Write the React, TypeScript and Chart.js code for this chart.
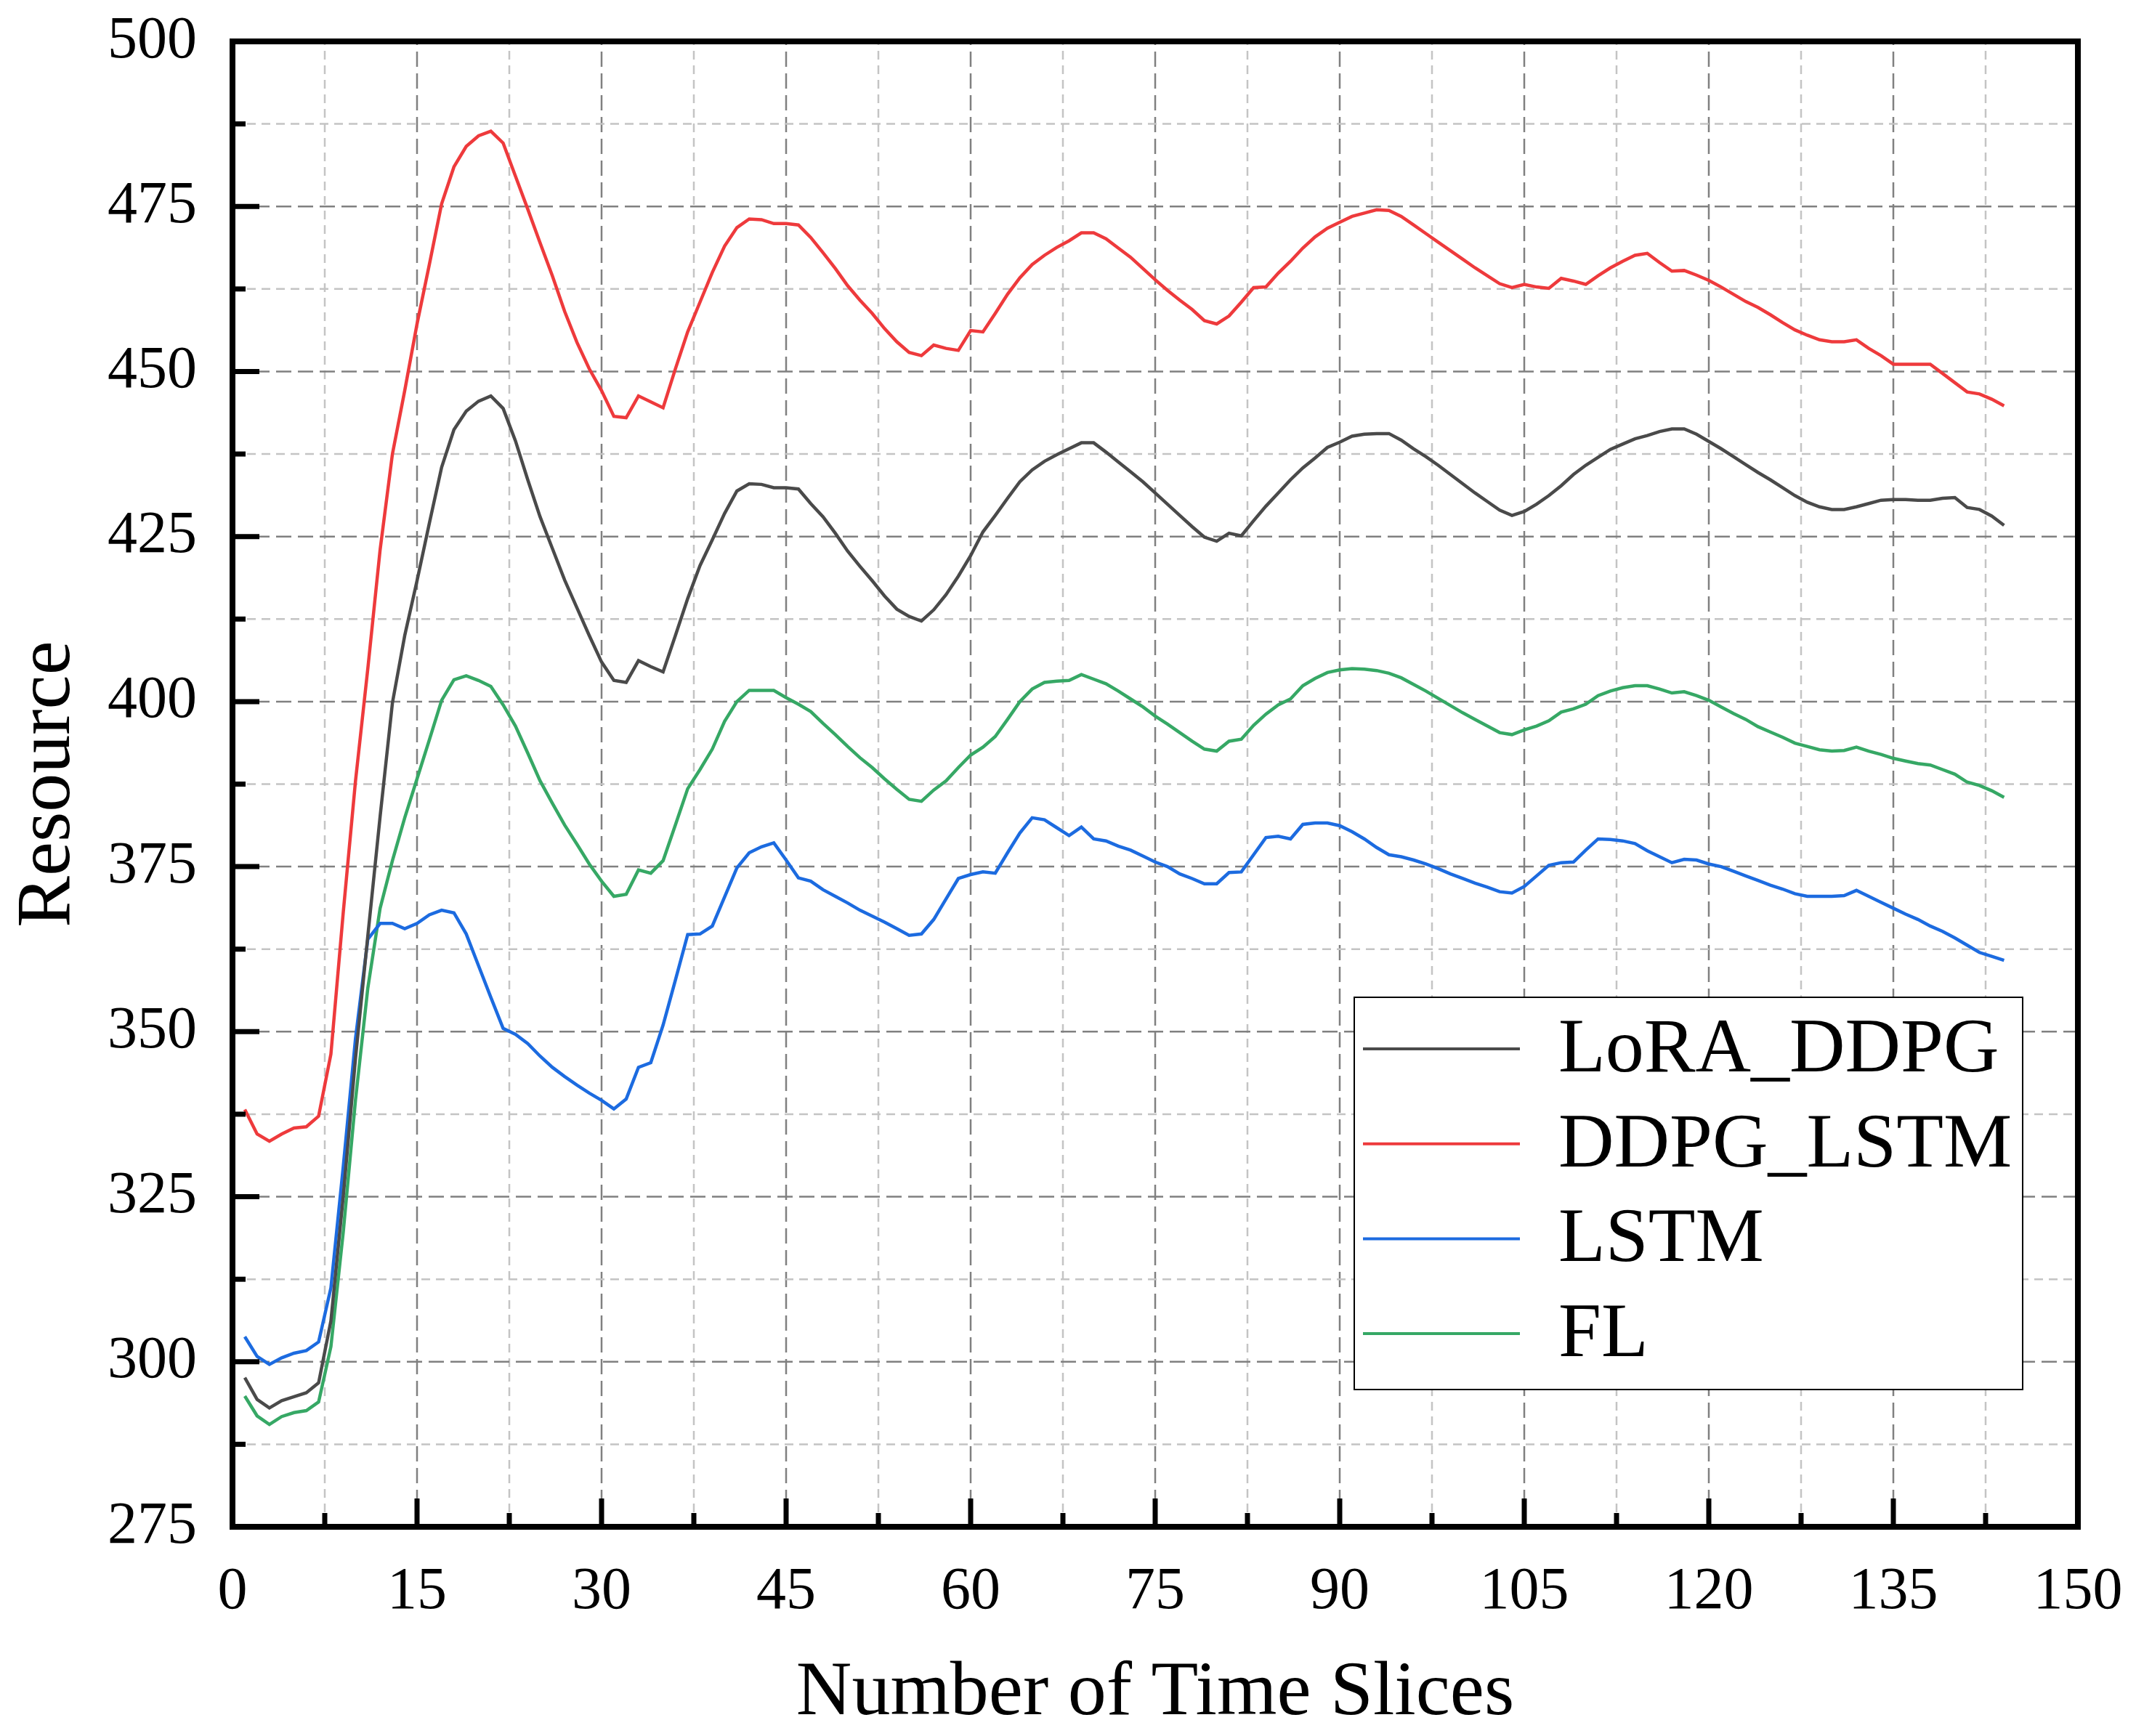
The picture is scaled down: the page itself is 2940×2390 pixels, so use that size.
import React, { useEffect, useRef } from "react";
import { Chart, registerables } from "chart.js";

Chart.register(...registerables);

const FONT = '"Liberation Serif", "Times New Roman", Times, serif';

const SERIES_LABELS = ["LoRA_DDPG", "DDPG_LSTM", "LSTM", "FL"];
const SERIES_COLORS = ["#4a4a4a", "#ee3a3c", "#1c6be0", "#36a865"];

// x categories: time slices 1..144
const TIME_SLICES = Array.from({ length: 144 }, (_, i) => i + 1);

const LORA_DDPG = [
  297.6, 294.3, 293.0, 294.1, 294.7, 295.3, 296.8, 306.2, 325.0, 346.0,
  364.5, 382.6, 399.8, 410.0, 418.3, 427.0, 435.5, 441.2, 444.0, 445.5,
  446.3, 444.4, 439.5, 433.6, 428.0, 423.2, 418.4, 414.2, 410.0, 406.0,
  403.2, 402.9, 406.2, 405.3, 404.5, 410.0, 415.6, 420.6, 424.5, 428.5,
  431.9, 433.0, 432.9, 432.4, 432.4, 432.2, 430.0, 428.0, 425.5, 422.8,
  420.5, 418.3, 416.0, 414.0, 412.9, 412.2, 413.9, 416.2, 419.0, 422.1,
  425.7, 428.2, 430.8, 433.3, 435.1, 436.4, 437.4, 438.3, 439.2, 439.2,
  437.8, 436.3, 434.8, 433.3, 431.6, 429.9, 428.2, 426.5, 424.9, 424.3,
  425.5, 425.1, 427.4, 429.6, 431.6, 433.6, 435.4, 436.9, 438.5, 439.3,
  440.2, 440.5, 440.6, 440.6, 439.6, 438.3, 437.1, 435.8, 434.4, 433.0,
  431.6, 430.3, 429.0, 428.2, 428.8, 429.9, 431.2, 432.7, 434.4, 435.8,
  437.0, 438.2, 439.0, 439.8, 440.3, 440.9, 441.3, 441.3, 440.5, 439.4,
  438.3, 437.1, 435.9, 434.7, 433.6, 432.4, 431.2, 430.2, 429.5, 429.1,
  429.1, 429.5, 430.0, 430.5, 430.6, 430.6, 430.5, 430.5, 430.8, 430.9,
  429.4, 429.1, 428.1, 426.7,
];

const DDPG_LSTM = [
  338.2, 334.5, 333.4, 334.5, 335.4, 335.6, 337.2, 346.6, 368.0, 388.0,
  405.0, 423.0, 437.5, 447.1, 457.2, 466.2, 475.4, 481.0, 484.1, 485.7,
  486.4, 484.6, 479.6, 474.6, 469.5, 464.5, 459.1, 454.4, 450.4, 447.1,
  443.2, 443.0, 446.3, 445.4, 444.5, 450.4, 456.0, 460.5, 465.0, 469.0,
  471.8, 473.1, 473.0, 472.4, 472.4, 472.2, 470.3, 468.0, 465.6, 463.0,
  460.8, 458.8, 456.5, 454.5, 452.9, 452.4, 454.0, 453.5, 453.2, 456.2,
  456.0, 458.8, 461.7, 464.2, 466.2, 467.6, 468.8, 469.8, 471.0, 471.0,
  470.1, 468.7, 467.3, 465.6, 463.9, 462.3, 460.8, 459.4, 457.7, 457.2,
  458.4, 460.5, 462.7, 462.8, 464.9, 466.7, 468.7, 470.4, 471.7, 472.6,
  473.5, 474.0, 474.5, 474.4, 473.5, 472.2, 470.9, 469.6, 468.3, 467.0,
  465.7, 464.5, 463.3, 462.7, 463.2, 462.8, 462.6, 464.1, 463.7, 463.2,
  464.5, 465.7, 466.7, 467.6, 467.9, 466.5, 465.2, 465.3, 464.6, 463.8,
  462.8, 461.7, 460.6, 459.7, 458.6, 457.4, 456.3, 455.5, 454.8, 454.5,
  454.5, 454.8, 453.5, 452.4, 451.1, 451.1, 451.1, 451.1, 449.7, 448.3,
  446.9, 446.6, 445.8, 444.8,
];

const LSTM = [
  303.8, 300.8, 299.6, 300.6, 301.3, 301.7, 303.0, 311.2, 329.5, 349.0,
  364.0, 366.4, 366.4, 365.6, 366.4, 367.7, 368.4, 368.0, 364.8, 360.0,
  355.2, 350.5, 349.6, 348.2, 346.3, 344.6, 343.2, 341.9, 340.7, 339.6,
  338.3, 339.8, 344.6, 345.3, 351.0, 357.8, 364.7, 364.8, 366.0, 370.4,
  374.8, 377.1, 378.0, 378.6, 376.0, 373.3, 372.8, 371.5, 370.5, 369.5,
  368.4, 367.5, 366.6, 365.6, 364.6, 364.8, 367.0, 370.1, 373.2, 373.8,
  374.2, 374.0, 377.1, 380.1, 382.4, 382.1, 380.9, 379.7, 381.0, 379.2,
  378.9, 378.1, 377.5, 376.6, 375.7, 375.0, 373.9, 373.2, 372.4, 372.4,
  374.1, 374.2, 376.8, 379.4, 379.6, 379.2, 381.4, 381.6, 381.6, 381.2,
  380.3, 379.2, 377.9, 376.8, 376.5, 376.0, 375.4, 374.7, 373.9, 373.2,
  372.5, 371.9, 371.2, 371.0, 372.0, 373.6, 375.2, 375.6, 375.7, 377.5,
  379.2, 379.1, 378.9, 378.5, 377.4, 376.5, 375.6, 376.1, 376.0, 375.4,
  375.0, 374.3, 373.6, 372.9, 372.2, 371.6, 370.9, 370.5, 370.5, 370.5,
  370.6, 371.4, 370.5, 369.6, 368.7, 367.8, 367.0, 366.0, 365.2, 364.2,
  363.1, 362.0, 361.4, 360.8,
];

const FL = [
  294.8, 291.8, 290.5, 291.7, 292.3, 292.6, 293.9, 302.3, 319.6, 339.7,
  356.6, 368.7, 375.9, 382.4, 388.3, 394.2, 400.2, 403.3, 403.9, 403.2,
  402.3, 399.5, 396.3, 392.2, 388.0, 384.6, 381.3, 378.4, 375.4, 372.8,
  370.5, 370.8, 374.5, 374.0, 375.9, 381.3, 386.8, 389.7, 392.8, 397.0,
  400.0, 401.7, 401.7, 401.7, 400.6, 399.6, 398.5, 396.7, 395.0, 393.2,
  391.5, 390.0, 388.3, 386.7, 385.2, 384.9, 386.6, 388.0, 390.0, 391.9,
  393.1, 394.7, 397.3, 400.0, 401.9, 402.9, 403.1, 403.2, 404.1, 403.4,
  402.7, 401.6, 400.4, 399.2, 397.8, 396.6, 395.3, 394.0, 392.8, 392.5,
  394.0, 394.3, 396.4, 398.1, 399.5, 400.4, 402.4, 403.5, 404.4, 404.8,
  405.0, 404.9, 404.7, 404.3, 403.6, 402.6, 401.6, 400.5, 399.4, 398.3,
  397.3, 396.3, 395.3, 395.0, 395.7, 396.3, 397.1, 398.4, 398.9, 399.6,
  400.9, 401.6, 402.1, 402.4, 402.4, 401.9, 401.3, 401.5, 400.9, 400.2,
  399.2, 398.2, 397.3, 396.2, 395.4, 394.6, 393.7, 393.2, 392.7, 392.5,
  392.6, 393.1, 392.5, 392.0, 391.4, 391.0, 390.6, 390.4, 389.7, 389.0,
  387.8, 387.3, 386.5, 385.5,
];

const SERIES_VALUES = [LORA_DDPG, DDPG_LSTM, LSTM, FL];

const X_MIN = 0;
const X_MAX = 150;
const X_MAJOR = 15;
const X_MINOR = 7.5;
const Y_MIN = 275;
const Y_MAX = 500;
const Y_MAJOR = 25;
const Y_MINOR = 12.5;

const decorPlugin = {
  id: "decor",
  beforeDatasetsDraw(chart: any) {
    const { ctx, chartArea } = chart;
    const { left, right, top, bottom } = chartArea;
    const xs = chart.scales.x;
    const ys = chart.scales.y;
    ctx.save();
    ctx.lineWidth = 2.5;
    xs.ticks.forEach((t: any) => {
      const px = xs.getPixelForValue(t.value);
      const major = Math.abs(t.value % X_MAJOR) < 1e-6;
      ctx.strokeStyle = major ? "#808080" : "#c4c4c4";
      ctx.setLineDash(major ? [21, 9] : [12, 8]);
      ctx.beginPath();
      ctx.moveTo(px, bottom);
      ctx.lineTo(px, top);
      ctx.stroke();
    });
    ys.ticks.forEach((t: any) => {
      const py = ys.getPixelForValue(t.value);
      const major = Math.abs(t.value % Y_MAJOR) < 1e-6;
      ctx.strokeStyle = major ? "#808080" : "#c4c4c4";
      ctx.setLineDash(major ? [21, 9] : [12, 8]);
      ctx.beginPath();
      ctx.moveTo(left, py);
      ctx.lineTo(right, py);
      ctx.stroke();
    });
    ctx.restore();
  },
  afterDatasetsDraw(chart: any) {
    const { ctx, chartArea } = chart;
    const { left, right, top, bottom } = chartArea;
    const xs = chart.scales.x;
    const ys = chart.scales.y;
    ctx.save();
    ctx.setLineDash([]);
    ctx.strokeStyle = "#000";
    ctx.lineCap = "butt";
    // inward ticks
    ctx.lineWidth = 7;
    xs.ticks.forEach((t: any) => {
      if (t.value <= X_MIN || t.value >= X_MAX) return;
      const px = xs.getPixelForValue(t.value);
      const major = Math.abs(t.value % X_MAJOR) < 1e-6;
      ctx.beginPath();
      ctx.moveTo(px, bottom);
      ctx.lineTo(px, bottom - (major ? 39 : 19));
      ctx.stroke();
    });
    ys.ticks.forEach((t: any) => {
      if (t.value <= Y_MIN || t.value >= Y_MAX) return;
      const py = ys.getPixelForValue(t.value);
      const major = Math.abs(t.value % Y_MAJOR) < 1e-6;
      ctx.beginPath();
      ctx.moveTo(left, py);
      ctx.lineTo(left + (major ? 37 : 18), py);
      ctx.stroke();
    });
    // frame
    ctx.lineWidth = 8;
    ctx.lineJoin = "miter";
    ctx.strokeRect(left, top, right - left, bottom - top);

    // legend
    const bx = 1864;
    const by = 1373;
    const bw = 920;
    const bh = 540;
    ctx.fillStyle = "#fff";
    ctx.fillRect(bx, by, bw, bh);
    ctx.lineWidth = 2;
    ctx.strokeRect(bx, by, bw, bh);
    ctx.font = `106px ${FONT}`;
    ctx.textBaseline = "middle";
    ctx.textAlign = "left";
    chart.data.datasets.forEach((ds: any, i: number) => {
      const ly = 1444 + i * 130.7;
      ctx.strokeStyle = ds.borderColor;
      ctx.lineWidth = 4;
      ctx.beginPath();
      ctx.moveTo(1876, ly);
      ctx.lineTo(2092, ly);
      ctx.stroke();
      ctx.fillStyle = "#000";
      ctx.fillText(ds.label, 2145, ly + 3);
    });
    ctx.restore();
  },
};

export default function App() {
  const canvasRef = useRef<HTMLCanvasElement | null>(null);

  useEffect(() => {
    const canvas = canvasRef.current;
    if (!canvas) return;
    const datasets = SERIES_LABELS.map((label, i) => ({
      label,
      data: TIME_SLICES.map((x, k) => ({ x, y: SERIES_VALUES[i][k] })),
      borderColor: SERIES_COLORS[i],
      backgroundColor: SERIES_COLORS[i],
      borderWidth: 4.5,
      pointRadius: 0,
      tension: 0,
      fill: false,
    }));
    const chart = new Chart(canvas, {
      type: "line",
      data: { datasets },
      options: {
        animation: false,
        responsive: false,
        maintainAspectRatio: false,
        devicePixelRatio: 1,
        layout: { padding: { top: 57, right: 80, bottom: 0, left: 0 } },
        plugins: { legend: { display: false }, tooltip: { enabled: false } },
        scales: {
          x: {
            type: "linear",
            min: X_MIN,
            max: X_MAX,
            grid: { display: false, drawTicks: false, tickLength: 0 },
            border: { display: false },
            ticks: {
              stepSize: X_MINOR,
              autoSkip: false,
              maxRotation: 0,
              minRotation: 0,
              padding: 41,
              color: "#000",
              font: { family: FONT, size: 82 },
              callback: (v: any) => (Math.abs(Number(v) % X_MAJOR) < 1e-6 ? String(v) : ""),
            },
            title: {
              display: true,
              text: "Number of Time Slices",
              color: "#000",
              font: { family: FONT, size: 106, lineHeight: 1.1 },
              padding: 0,
            },
            afterFit: (s: any) => {
              s.height = 288;
              s.paddingLeft = 0;
              s.paddingRight = 0;
            },
          },
          y: {
            type: "linear",
            min: Y_MIN,
            max: Y_MAX,
            grid: { display: false, drawTicks: false, tickLength: 0 },
            border: { display: false },
            ticks: {
              stepSize: Y_MINOR,
              autoSkip: false,
              padding: 49,
              color: "#000",
              font: { family: FONT, size: 82 },
              callback: (v: any) => (Math.abs(Number(v) % Y_MAJOR) < 1e-6 ? String(v) : ""),
            },
            title: {
              display: true,
              text: "Resource",
              color: "#000",
              font: { family: FONT, size: 106, lineHeight: 1.1 },
              padding: { top: 9, bottom: 0 },
            },
            afterFit: (s: any) => {
              s.width = 320;
              s.paddingTop = 0;
              s.paddingBottom = 0;
            },
          },
        },
      } as any,
      plugins: [decorPlugin],
    });
    return () => chart.destroy();
  }, []);

  return (
    <div
      style={{
        position: "absolute",
        left: 0,
        top: 0,
        width: 2940,
        height: 2390,
        background: "#fff",
      }}
    >
      <canvas
        ref={canvasRef}
        width={2940}
        height={2390}
        style={{ width: 2940, height: 2390, display: "block" }}
      />
    </div>
  );
}
